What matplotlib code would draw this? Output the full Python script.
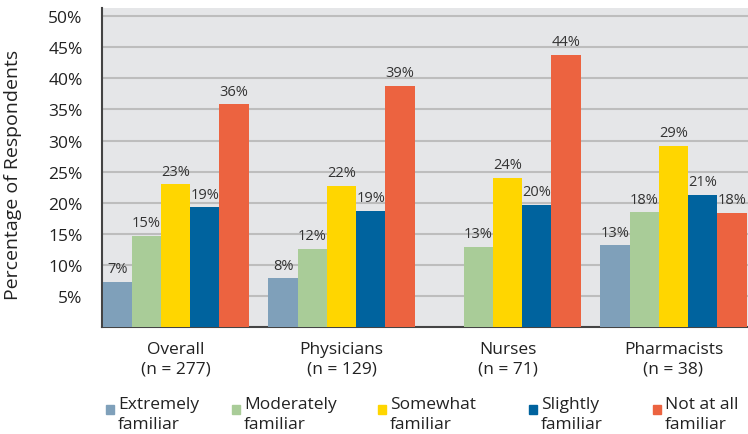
import numpy as np
import matplotlib
matplotlib.use('Agg')
import matplotlib.pyplot as plt
from matplotlib.patches import Rectangle

plt.rcParams['font.family'] = ['Open Sans', 'DejaVu Sans']

# Data
groups = ["Overall\n(n = 277)", "Physicians\n(n = 129)", "Nurses\n(n = 71)", "Pharmacists\n(n = 38)"]
series = ["Extremely\nfamiliar", "Moderately\nfamiliar", "Somewhat\nfamiliar", "Slightly\nfamiliar", "Not at all\nfamiliar"]
extremely = [7.3, 7.9, None, 13.2]
moderately = [14.7, 12.6, 12.9, 18.5]
somewhat = [23.0, 22.7, 24.0, 29.2]
slightly = [19.3, 18.7, 19.7, 21.3]
not_at_all = [35.8, 38.8, 43.8, 18.4]
labels = [
    ["7%", "8%", None, "13%"],
    ["15%", "12%", "13%", "18%"],
    ["23%", "22%", "24%", "29%"],
    ["19%", "19%", "20%", "21%"],
    ["36%", "39%", "44%", "18%"],
]
colors = ["#7FA0BA", "#A9CC98", "#FFD600", "#00639E", "#EC6340"]
yticks = [5, 10, 15, 20, 25, 30, 35, 40, 45, 50]

values = [extremely, moderately, somewhat, slightly, not_at_all]

fig = plt.figure(figsize=(7.48, 4.35), dpi=100)
ax = fig.add_axes([0.1364, 0.2453, 0.8636, 0.734])
ax.set_facecolor("#E5E6E8")

x = np.arange(len(groups))
width = 0.176
for i, (vals, col) in enumerate(zip(values, colors)):
    pos = x + (i - 2) * width
    for j, v in enumerate(vals):
        if v is None:
            continue
        ax.bar(pos[j], v, width, color=col, zorder=3)
        ax.annotate(labels[i][j], (pos[j], v), xytext=(0, 4), textcoords="offset points",
                    ha="center", va="bottom", fontsize=10.5, color="#333333", zorder=4)

ax.set_xlim(-0.443, 3.449)
ax.set_ylim(0, 51.3)
ax.set_yticks(yticks)
ax.set_yticklabels([f"{t}%" for t in yticks], fontsize=12.5, color="#222222")
ax.yaxis.grid(True, color="#BDBDBD", linewidth=1.5, zorder=0)
ax.tick_params(axis="y", length=0, pad=14)
ax.set_xticks(x)
ax.set_xticklabels(groups, fontsize=12.5, color="#222222", linespacing=1.3)
ax.tick_params(axis="x", length=0, pad=10)
ax.set_ylabel("Percentage of Respondents", fontsize=14, color="#222222")
ax.yaxis.set_label_coords(-0.124, 0.48)

for side in ["top", "right"]:
    ax.spines[side].set_visible(False)
ax.spines["left"].set_color("#444444")
ax.spines["left"].set_linewidth(1.5)
ax.spines["bottom"].set_color("#444444")
ax.spines["bottom"].set_linewidth(1.5)

# Legend drawn along the bottom, marker aligned with first line
leg_x = [106, 232, 378, 529, 653]
W, H = 748.0, 435.0
for lx, name, col in zip(leg_x, series, colors):
    fig.patches.append(Rectangle((lx / W, 1 - 415 / H), 8 / W, 9 / H, transform=fig.transFigure,
                                 color=col, figure=fig))
    fig.text((lx + 12) / W, 1 - 397 / H, name, fontsize=12.5, color="#222222",
             ha="left", va="top", linespacing=1.3)

fig.savefig("out.png", dpi=100)
